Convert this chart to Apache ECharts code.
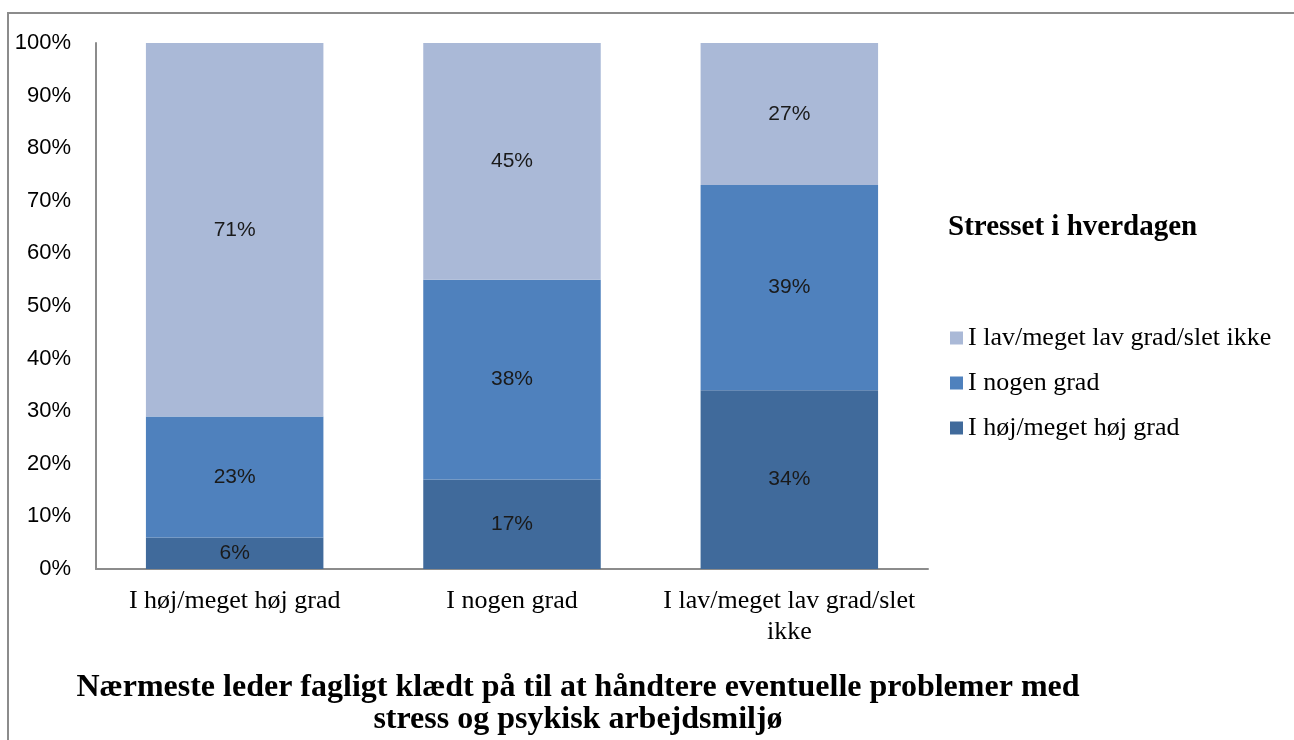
<!DOCTYPE html>
<html>
<head>
<meta charset="utf-8">
<script src="https://cdn.jsdelivr.net/npm/echarts@6/dist/echarts.min.js"></script>
<style>
  html, body { margin: 0; padding: 0; background: #fff; }
  #chart { width: 1294px; height: 740px; }
</style>
</head>
<body>
<div id="chart"></div>
<script>
// kategorier på x-aksen
const categories = ['I høj/meget høj grad', 'I nogen grad', 'I lav/meget lav grad/slet\nikke']
// serier (procent)
const hoejGrad = [6, 17, 34]
const nogenGrad = [23, 38, 39]
const lavGrad = [71, 45, 27]
const seriesNames = ['I høj/meget høj grad', 'I nogen grad', 'I lav/meget lav grad/slet ikke']
const yTicks = [0, 10, 20, 30, 40, 50, 60, 70, 80, 90, 100]

const chart = echarts.init(document.getElementById('chart'))

const labelStyle = {
  show: true,
  position: 'inside',
  formatter: '{c}%',
  color: '#1a1a1a',
  fontFamily: 'Liberation Sans',
  fontSize: 21
}

const option = {
  animation: false,
  graphic: [
    {
      type: 'polyline',
      shape: { points: [[8, 740], [8, 13], [1294, 13]] },
      style: { stroke: '#8c8c8c', lineWidth: 2, fill: null }
    },
    {
      type: 'text',
      x: 948,
      y: 228,
      style: {
        text: 'Stresset i hverdagen',
        font: 'bold 29px "Liberation Serif"',
        fill: '#000',
        verticalAlign: 'middle'
      }
    },
    {
      type: 'text',
      x: 578,
      y: 688,
      style: {
        text: 'Nærmeste leder fagligt klædt på til at håndtere eventuelle problemer med',
        font: 'bold 32px "Liberation Serif"',
        fill: '#000',
        align: 'center',
        verticalAlign: 'middle'
      }
    },
    {
      type: 'text',
      x: 578,
      y: 720,
      style: {
        text: 'stress og psykisk arbejdsmiljø',
        font: 'bold 32px "Liberation Serif"',
        fill: '#000',
        align: 'center',
        verticalAlign: 'middle'
      }
    }
  ],
  grid: { left: 96, top: 43, width: 832, height: 526 },
  legend: {
    orient: 'vertical',
    left: 950,
    top: 325,
    padding: 0,
    itemWidth: 13,
    itemHeight: 13,
    itemGap: 19,
    icon: 'rect',
    data: [seriesNames[2], seriesNames[1], seriesNames[0]],
    textStyle: { fontFamily: 'Liberation Serif', fontSize: 26, color: '#000' }
  },
  xAxis: {
    type: 'category',
    data: categories,
    axisLine: { lineStyle: { color: '#8c8c8c', width: 2 } },
    axisTick: { show: false },
    axisLabel: {
      interval: 0,
      color: '#000',
      fontFamily: 'Liberation Serif',
      fontSize: 26,
      margin: 17,
      lineHeight: 31
    }
  },
  yAxis: {
    type: 'value',
    min: 0,
    max: 100,
    interval: 10,
    axisLine: { show: true, lineStyle: { color: '#8c8c8c', width: 2 } },
    axisTick: { show: false },
    splitLine: { show: false },
    axisLabel: {
      color: '#000',
      fontFamily: 'Liberation Sans',
      fontSize: 22,
      margin: 25,
      formatter: v => (yTicks.includes(v) ? v + '%' : '')
    }
  },
  series: [
    {
      name: seriesNames[0],
      type: 'bar',
      stack: 'total',
      barWidth: '64%',
      data: hoejGrad,
      itemStyle: { color: '#406a9b' },
      label: labelStyle
    },
    {
      name: seriesNames[1],
      type: 'bar',
      stack: 'total',
      data: nogenGrad,
      itemStyle: { color: '#4f81bd' },
      label: labelStyle
    },
    {
      name: seriesNames[2],
      type: 'bar',
      stack: 'total',
      data: lavGrad,
      itemStyle: { color: '#aab9d7' },
      label: labelStyle
    }
  ]
}

chart.setOption(option)
</script>
</body>
</html>
